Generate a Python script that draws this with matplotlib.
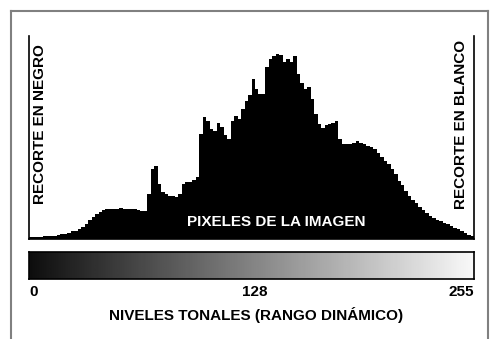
import matplotlib.pyplot as plt
import numpy as np
from matplotlib.lines import Line2D

# histogram counts, one bin per 2 tonal levels (0-255)
counts = [2, 2, 2, 2, 3, 3, 3, 3, 4, 5, 5, 6, 8, 8, 10, 12,
          15, 19, 22, 25, 27, 29, 30, 30, 30, 30, 31, 30, 30, 30, 30, 29,
          28, 28, 45, 70, 73, 55, 47, 45, 43, 43, 42, 45, 55, 57, 57, 59,
          62, 105, 122, 118, 110, 108, 116, 112, 104, 100, 118, 123, 120, 130, 138, 144,
          160, 150, 145, 145, 172, 180, 183, 185, 184, 177, 180, 177, 183, 165, 156, 150,
          152, 140, 125, 115, 111, 114, 115, 116, 118, 100, 95, 95, 95, 96, 98, 96,
          95, 93, 92, 90, 86, 82, 78, 75, 70, 65, 58, 54, 48, 43, 39, 36,
          32, 29, 26, 23, 21, 19, 18, 16, 15, 13, 11, 10, 8, 6, 4, 3]
levels = np.arange(0, 256, 2)
tick_vals = [0, 128, 255]
tick_labels = ['0', '128', '255']

fam = ['Liberation Sans', 'DejaVu Sans']
fs = 11

fig = plt.figure(figsize=(4.91, 3.39), dpi=100)
W, H = 491, 339

def box(x0, y0, x1, y1):
    return [x0 / W, 1 - y1 / H, (x1 - x0) / W, (y1 - y0) / H]

# outer frame, open at the bottom
fc = '#808080'
for xs, ys in [([11, 488], [11, 11]), ([11, 11], [11, 339]), ([488, 488], [11, 339])]:
    fig.add_artist(Line2D([x / W for x in xs], [1 - y / H for y in ys],
                          color=fc, lw=1.5, transform=fig.transFigure))

# histogram
ax = fig.add_axes(box(29, 36, 474, 239))
ax.bar(levels, counts, width=2, align='edge', color='black', linewidth=0)
ax.set_xlim(0, 256)
ax.set_ylim(0, 203)
ax.set_xticks([])
ax.set_yticks([])
ax.spines['top'].set_visible(False)
for s in ['left', 'right', 'bottom']:
    ax.spines[s].set_linewidth(1.2)
ax.text(142, 17, 'PIXELES DE LA IMAGEN', color='white', fontsize=fs,
        fontweight='bold', family=fam, ha='center', va='center')
ax.text(6.5, 115, 'RECORTE EN NEGRO', color='black', fontsize=fs, fontweight='bold',
        family=fam, rotation=90, ha='center', va='center')
ax.text(248.5, 115, 'RECORTE EN BLANCO', color='black', fontsize=fs, fontweight='bold',
        family=fam, rotation=90, ha='center', va='center')

# tonal gradient bar
ax2 = fig.add_axes(box(29, 252, 474, 279))
ax2.imshow(np.arange(256)[None, :], cmap='gray', vmin=-15, vmax=262,
           aspect='auto', extent=(0, 256, 0, 1))
ax2.set_xlim(0, 256)
ax2.set_xticks([])
ax2.set_yticks([])
for s in ax2.spines.values():
    s.set_linewidth(1.2)

has = ['left', 'center', 'right']
xpos = [0, 130, 256]
for v, lab, ha, xp in zip(tick_vals, tick_labels, has, xpos):
    ax2.text(xp, -0.5, lab, fontsize=fs, fontweight='bold', family=fam,
             ha=ha, va='center', transform=ax2.transData)

fig.text(256 / W, 1 - 315 / H, 'NIVELES TONALES (RANGO DINÁMICO)', fontsize=fs,
         fontweight='bold', family=fam, ha='center', va='center')

plt.savefig('out.png', dpi=100)
